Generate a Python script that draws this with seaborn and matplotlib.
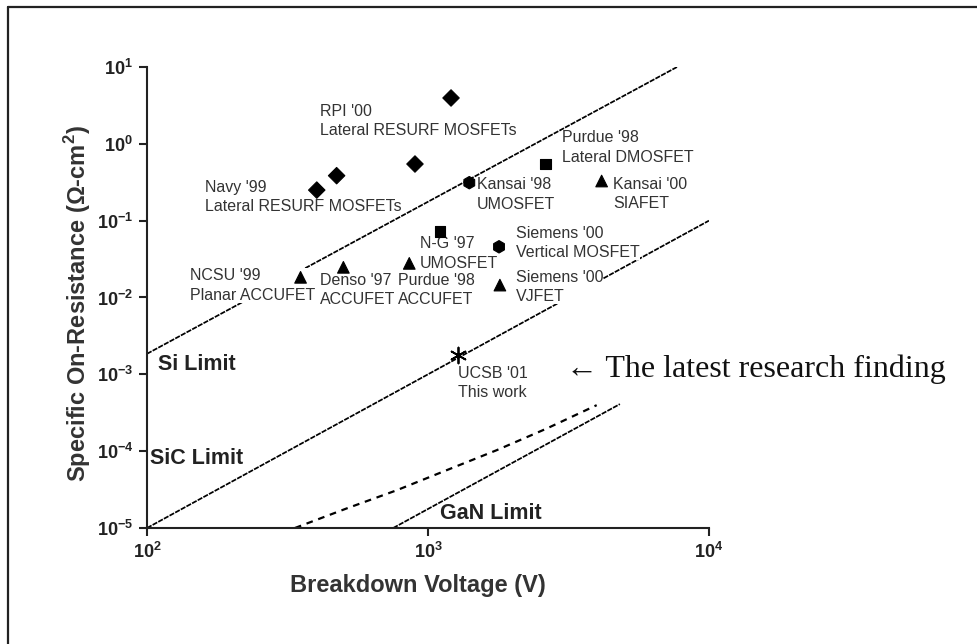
import numpy as np
import pandas as pd
import matplotlib
matplotlib.use('Agg')
import matplotlib.pyplot as plt
from matplotlib.lines import Line2D
from matplotlib.ticker import FixedLocator, FixedFormatter, NullLocator
import seaborn as sns

# devices: breakdown voltage (V) and specific on-resistance (ohm-cm2)
device = ["RPI '00 a", "RPI '00 b", "Navy '99 a", "Navy '99 b", "Kansai '98",
          "Purdue '98 DMOSFET", "Kansai '00", "N-G '97", "Siemens '00 MOSFET",
          "NCSU '99", "Denso '97", "Purdue '98 ACCUFET", "Siemens '00 VJFET", "UCSB '01"]
voltage = [1208, 899, 473, 402, 1403, 2624, 4150, 1104, 1790, 352, 500, 858, 1803, 1280]
ron = [3.95, 0.546, 0.385, 0.25, 0.312, 0.546, 0.328, 0.0718, 0.0457,
       0.0183, 0.0247, 0.0278, 0.0145, 1.78e-3]
kind = ['diamond', 'diamond', 'diamond', 'diamond', 'hexagon', 'square', 'triangle',
        'square', 'hexagon', 'triangle', 'triangle', 'triangle', 'triangle', 'star']

# material limits
si_v = [100, 7700]
si_r = [1.85e-3, 10]
sic_v = [100, 10000]
sic_r = [1e-5, 0.1]
gan_v = [752, 4820]
gan_r = [1e-5, 4.1e-4]
gan2_v = [336, 514, 774, 1166, 1756, 2645, 3985]
gan2_r = [1e-5, 1.8e-5, 3.1e-5, 5.66e-5, 1.03e-4, 1.97e-4, 3.97e-4]

labels = ["RPI '00\nLateral RESURF MOSFETs", "Navy '99\nLateral RESURF MOSFETs",
          "Kansai '98\nUMOSFET", "Purdue '98\nLateral DMOSFET", "Kansai '00\nSIAFET",
          "N-G '97\nUMOSFET", "Siemens '00\nVertical MOSFET", "Siemens '00\nVJFET",
          "NCSU '99\nPlanar ACCUFET", "Denso '97\nACCUFET", "Purdue '98\nACCUFET",
          "UCSB '01\nThis work"]
label_x = [413, 161, 1494, 2999, 4553, 936, 2057, 2057, 142, 413, 782, 1279]
label_y = [1.99, 0.205, 0.219, 0.895, 0.222, 0.0373, 0.0511, 0.0138, 0.0143, 0.0125, 0.0125, 7.8e-4]

limit_names = ['Si Limit', 'SiC Limit', 'GaN Limit']
limit_x = [109, 102.5, 1103]
limit_y = [1.36e-3, 8.1e-5, 1.56e-5]

exps = [-5, -4, -3, -2, -1, 0, 1]
xexps = [2, 3, 4]

df = pd.DataFrame({'device': device, 'voltage': voltage, 'ron': ron, 'kind': kind})
filled = df[df['kind'] != 'star']
star = df[df['kind'] == 'star']

sns.set_style('ticks')
plt.rcParams['font.family'] = ['Liberation Sans', 'DejaVu Sans']
plt.rcParams['mathtext.fontset'] = 'custom'
plt.rcParams['mathtext.bf'] = 'Liberation Sans:bold'
plt.rcParams['mathtext.rm'] = 'Liberation Sans'

fig = plt.figure(figsize=(9.78, 6.44), dpi=100)
ax = fig.add_axes([0.1503, 0.1801, 0.5746, 0.7159])
ax.set_xscale('log')
ax.set_yscale('log')

dash = (0, (3, 0.7))
sns.lineplot(x=si_v, y=si_r, ax=ax, color='black', lw=1.25, linestyle=dash, zorder=2)
sns.lineplot(x=sic_v, y=sic_r, ax=ax, color='black', lw=1.25, linestyle=dash, zorder=2)
sns.lineplot(x=gan_v, y=gan_r, ax=ax, color='black', lw=1.25, linestyle=dash, zorder=2)
sns.lineplot(x=gan2_v, y=gan2_r, ax=ax, color='black', lw=1.6, linestyle=(0, (3, 2.6)), zorder=2)

sns.scatterplot(data=filled, x='voltage', y='ron', style='kind', size='kind',
                markers={'diamond': 'D', 'hexagon': 'h', 'square': 's', 'triangle': '^'},
                sizes={'diamond': 70, 'hexagon': 80, 'square': 60, 'triangle': 70},
                color='black', edgecolor='black', linewidth=0.8, legend=False, ax=ax, zorder=4)
sns.scatterplot(data=star, x='voltage', y='ron', marker=(6, 2, 0), s=130,
                color='black', linewidth=1.3, legend=False, ax=ax, zorder=4)

for t, x, y in zip(labels, label_x, label_y):
    ax.text(x, y, t, fontsize=11.5, color='#333333', ha='left', va='center', linespacing=1.35,
            zorder=3, bbox=dict(facecolor='white', edgecolor='none', pad=0))

for t, x, y in zip(limit_names, limit_x, limit_y):
    ax.text(x, y, t, fontsize=15.5, fontweight='bold', color='#222222', ha='left', va='center', zorder=3)

ax.text(3100, 1.17e-3, '\u2190 The latest research finding', fontsize=23,
        family=['Liberation Serif', 'DejaVu Serif'], color='#111111', ha='left', va='center')

ax.set_xlim(100, 1e4)
ax.set_ylim(1e-5, 10)
ax.xaxis.set_major_locator(FixedLocator([10.0 ** e for e in xexps]))
ax.xaxis.set_major_formatter(FixedFormatter([r'$\mathbf{10^{%d}}$' % e for e in xexps]))
ax.yaxis.set_major_locator(FixedLocator([10.0 ** e for e in exps]))
ax.yaxis.set_major_formatter(FixedFormatter([r'$\mathbf{10^{%d}}$' % e for e in exps]))
ax.xaxis.set_minor_locator(NullLocator())
ax.yaxis.set_minor_locator(NullLocator())
ax.tick_params(direction='out', length=6, width=1.5, labelsize=13, colors='#222222', pad=4)
for s in ['left', 'bottom']:
    ax.spines[s].set_linewidth(1.5)
    ax.spines[s].set_color('#222222')
sns.despine(ax=ax)

ax.set_xlabel('Breakdown Voltage (V)', fontsize=17, fontweight='bold', color='#333333', va='center')
ax.xaxis.set_label_coords(0.482, -0.124)
ax.set_ylabel('Specific On-Resistance ($\\mathbf{\\Omega}$-cm$^\\mathbf{2}$)', fontsize=17,
              fontweight='bold', color='#333333', va='center')
ax.yaxis.set_label_coords(-0.123, 0.486)

# page frame
fig.add_artist(Line2D([8 / 978, 8 / 978], [0, 1 - 7 / 644], transform=fig.transFigure, color='#222222', lw=1.6))
fig.add_artist(Line2D([8 / 978, 1], [1 - 7 / 644, 1 - 7 / 644], transform=fig.transFigure, color='#222222', lw=1.6))

fig.savefig('out.png', dpi=100)
